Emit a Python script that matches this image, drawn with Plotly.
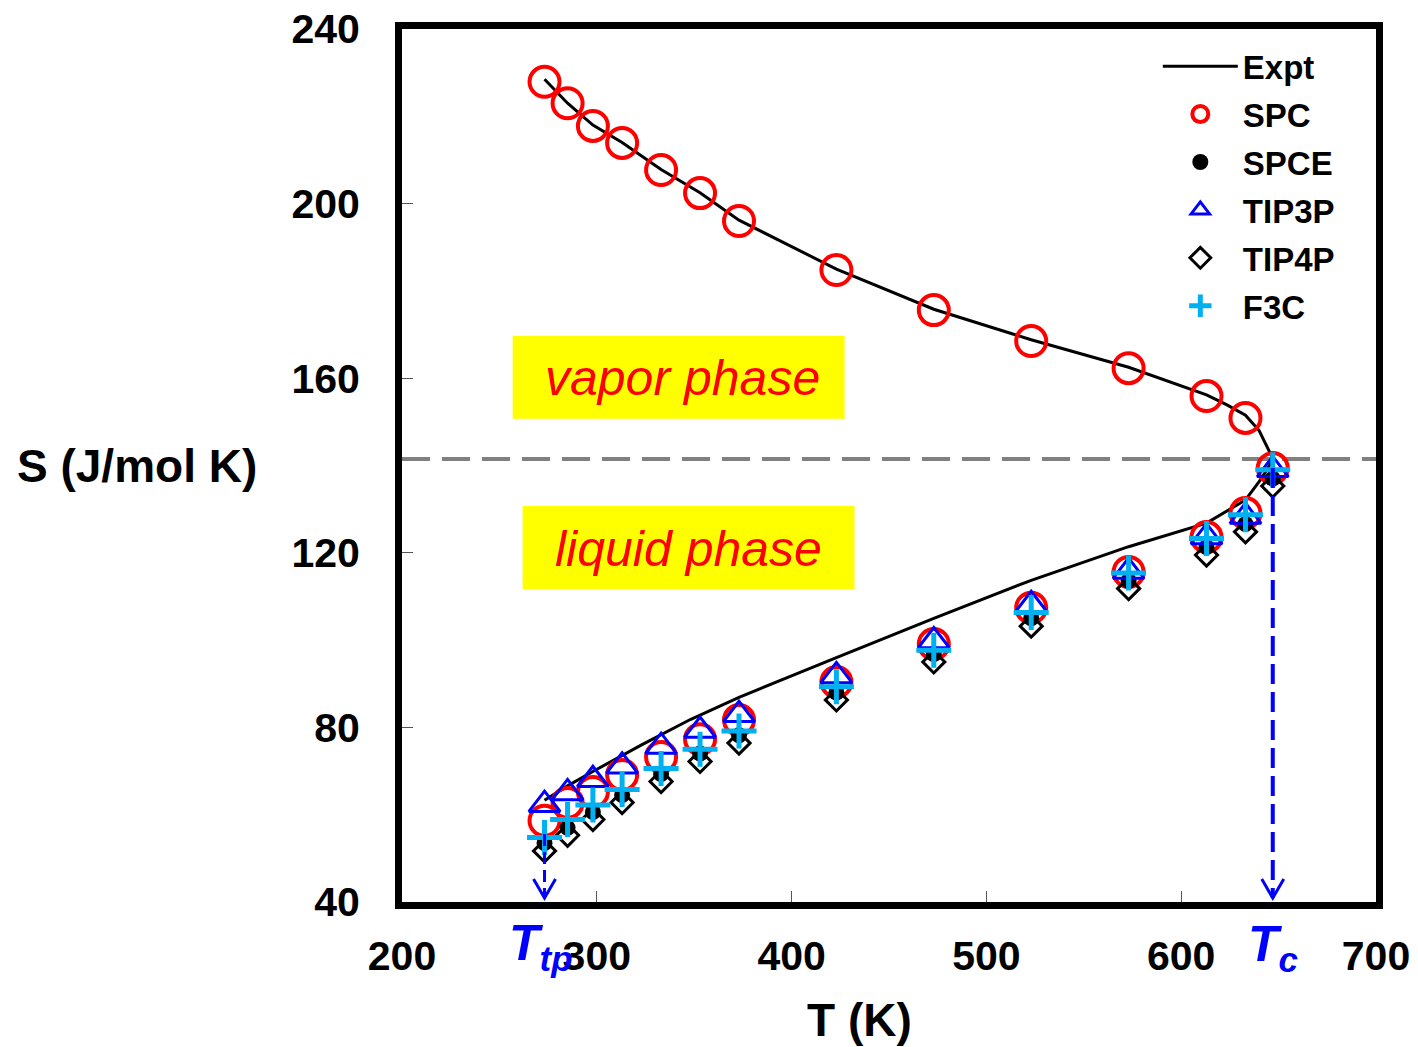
import plotly.graph_objects as go

# ---------------- data ----------------
T_sim = [273.16, 285, 298, 313, 333, 353, 373, 423, 473, 523, 573, 613, 633, 647]
T_vap_sim = [273.16, 285, 298, 313, 333, 353, 373, 423, 473, 523, 573, 613, 633]

SPC_vap = [227.9, 223.0, 217.8, 213.9, 207.7, 202.4, 196.0, 184.8, 175.6, 168.5, 162.3, 155.9, 150.9]
SPC_liq = [58.6, 62.7, 65.2, 69.1, 73.2, 77.3, 81.7, 90.4, 99.1, 107.4, 115.6, 123.6, 129.1, 139.4]
SPCE_liq = [53.5, 57.0, 60.6, 64.5, 69.3, 74.0, 78.2, 88.0, 96.8, 105.0, 113.6, 121.3, 126.6, 137.0]
TIP3P_liq = [62.3, 65.0, 68.0, 71.1, 75.6, 79.3, 82.9, 91.8, 99.8, 108.1, 115.7, 123.6, 128.3, 139.0]
TIP4P_liq = [51.7, 55.3, 58.9, 62.8, 67.6, 72.2, 76.4, 86.3, 95.0, 103.2, 111.8, 119.5, 124.8, 135.3]
F3C_liq = [54.8, 58.9, 62.2, 65.8, 70.6, 75.0, 79.2, 89.3, 97.7, 106.3, 115.4, 123.3, 128.7, 139.0]

# experimental saturation curve: liquid branch up to Tc, then vapor branch back down
T_expt = [273.16, 285, 298, 323, 348, 373, 423, 473, 523, 573, 613, 633, 640, 644, 647.1,
          645, 640, 633, 623, 613, 573, 523, 473, 423, 373, 353, 333, 313, 298, 285, 273.16]
S_expt = [63.3, 66.6, 69.9, 76.0, 81.8, 86.9, 96.0, 105.0, 113.7, 121.4, 126.8, 132.1, 136.3, 139.0, 141.5,
          143.5, 148.0, 151.5, 154.0, 156.2, 162.5, 168.8, 175.8, 185.0, 196.2, 202.5, 207.8, 214.0, 218.0, 223.0, 228.5]

S_crit = 141.5
T_tp = 273.16
T_c = 647.0

x_ticks = [200, 300, 400, 500, 600, 700]
y_ticks = [40, 80, 120, 160, 200, 240]

FONT = "Arial, Liberation Sans, sans-serif"

fig = go.Figure()

fig.add_trace(go.Scatter(x=T_expt, y=S_expt, mode="lines", name="Expt",
                         line=dict(color="black", width=3), legendrank=1, legendgroup="a"))
fig.add_trace(go.Scatter(x=T_vap_sim + T_sim, y=SPC_vap + SPC_liq, mode="markers", name="SPC",
                         marker=dict(symbol="circle-open", size=30, color="#FF0000", line=dict(width=4)),
                         legendrank=2, legendgroup="b"))
fig.add_trace(go.Scatter(x=T_sim, y=SPCE_liq, mode="markers", name="SPCE",
                         marker=dict(symbol="circle", size=16, color="black"),
                         legendrank=3, legendgroup="c"))
fig.add_trace(go.Scatter(x=T_sim, y=TIP4P_liq, mode="markers", name="TIP4P",
                         marker=dict(symbol="diamond-open", size=17, color="black", line=dict(width=3)),
                         legendrank=5, legendgroup="e"))
fig.add_trace(go.Scatter(x=T_sim, y=TIP3P_liq, mode="markers", name="TIP3P",
                         marker=dict(symbol="triangle-up-open", size=27, color="#0000FF", line=dict(width=3)),
                         legendrank=4, legendgroup="d"))
fig.add_trace(go.Scatter(x=T_sim, y=F3C_liq, mode="markers", name="F3C",
                         marker=dict(symbol="cross-thin", size=25, color="#00B0F0",
                                     line=dict(width=5, color="#00B0F0")),
                         legendrank=6, legendgroup="f"))

shapes = []
# gray dashed critical-entropy line
shapes.append(dict(type="line", xref="paper", yref="y", x0=0, x1=1, y0=S_crit, y1=S_crit,
                   line=dict(color="#808080", width=4, dash="28px,12px"), layer="below"))
# blue dashed drop lines
shapes.append(dict(type="line", xref="x", yref="y", x0=T_c, x1=T_c, y0=SPC_liq[-1], y1=41,
                   line=dict(color="#0000FF", width=4, dash="20px,8px")))
shapes.append(dict(type="line", xref="x", yref="y", x0=T_tp, x1=T_tp, y0=SPC_liq[0] - 3, y1=41,
                   line=dict(color="#0000FF", width=3, dash="12px,6px")))
# open V arrowheads
for tx in (T_tp, T_c):
    shapes.append(dict(type="path", xref="x", yref="y", xsizemode="pixel", ysizemode="pixel",
                       xanchor=tx, yanchor=40, path="M -11,23 L 0,4 L 11,23",
                       line=dict(color="#0000FF", width=3)))
# yellow boxes
shapes.append(dict(type="rect", xref="x", yref="y", x0=256.8, x1=427.2, y0=150.7, y1=169.7,
                   fillcolor="#FFFF00", line=dict(width=0), layer="below"))
shapes.append(dict(type="rect", xref="x", yref="y", x0=261.9, x1=432.3, y0=111.7, y1=130.7,
                   fillcolor="#FFFF00", line=dict(width=0), layer="below"))

annotations = [
    dict(x=343.8, y=160.0, xref="x", yref="y", text="<i>vapor phase</i>", showarrow=False,
         xanchor="center", yanchor="middle",
         font=dict(family=FONT, size=50, color="#FF0000")),
    dict(x=346.9, y=120.9, xref="x", yref="y", text="<i>liquid phase</i>", showarrow=False,
         xanchor="center", yanchor="middle",
         font=dict(family=FONT, size=50, color="#FF0000")),
    dict(x=T_tp - 2, y=-0.051, xref="x", yref="paper", text="<b><i>T<sub>tp</sub></i></b>", showarrow=False,
         xanchor="center", yanchor="middle",
         font=dict(family=FONT, size=50, color="#0000FF")),
    dict(x=T_c, y=-0.052, xref="x", yref="paper", text="<b><i>T<sub>c</sub></i></b>", showarrow=False,
         xanchor="center", yanchor="middle",
         font=dict(family=FONT, size=50, color="#0000FF")),
    dict(x=-0.272, y=0.5, xref="paper", yref="paper", text="<b>S (J/mol K)</b>", showarrow=False,
         xanchor="center", yanchor="middle",
         font=dict(family=FONT, size=46, color="black")),
    dict(x=0.47, y=-0.135, xref="paper", yref="paper", text="<b>T (K)</b>", showarrow=False,
         xanchor="center", yanchor="middle",
         font=dict(family=FONT, size=46, color="black")),
]

fig.update_layout(
    width=1418, height=1047,
    margin=dict(l=402, r=42, t=29, b=145, autoexpand=False),
    paper_bgcolor="white", plot_bgcolor="white",
    font=dict(family=FONT, color="black"),
    shapes=shapes, annotations=annotations,
    showlegend=True,
    legend=dict(x=0.776, y=0.9894, xanchor="left", yanchor="top", bgcolor="rgba(0,0,0,0)",
                font=dict(family=FONT, size=33, color="black", weight="bold"),
                itemwidth=75, tracegroupgap=2, traceorder="grouped"),
    xaxis=dict(range=[200, 700], tickvals=x_ticks, ticktext=[str(v) for v in x_ticks],
               showgrid=False, zeroline=False, showline=True, linecolor="black", linewidth=7,
               mirror=True, ticks="inside", ticklen=11, tickwidth=1, tickcolor="#555555",
               tickfont=dict(family=FONT, size=41, color="black", weight="bold"),
               ticklabelstandoff=12, automargin=False),
    yaxis=dict(range=[40, 240], tickvals=y_ticks, ticktext=[str(v) for v in y_ticks],
               showgrid=False, zeroline=False, showline=True, linecolor="black", linewidth=7,
               mirror=True, ticks="inside", ticklen=11, tickwidth=1, tickcolor="#555555",
               tickfont=dict(family=FONT, size=41, color="black", weight="bold"),
               ticklabelstandoff=27, automargin=False),
)

fig.write_html("out.html", config={"displayModeBar": False},
               post_script="document.body.style.margin='0';document.body.style.overflow='hidden';")
